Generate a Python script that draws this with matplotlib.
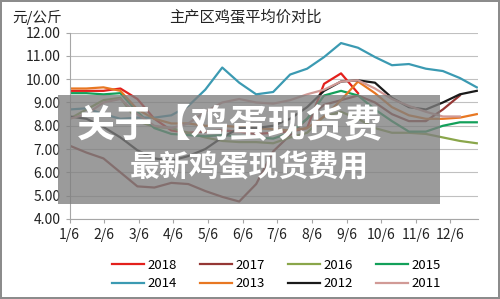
import numpy as np
import matplotlib
matplotlib.use("Agg")
import matplotlib.pyplot as plt
from matplotlib.patches import Rectangle

plt.rcParams['font.family'] = ['Noto Sans CJK SC', 'DejaVu Sans']

# half-month sample points, in months after 1/6
x_pos = np.arange(25) * 0.49
month_labels = ["1/6", "2/6", "3/6", "4/6", "5/6", "6/6", "7/6", "8/6", "9/6", "10/6", "11/6", "12/6"]
nan = np.nan

p2018 = [9.5, 9.5, 9.5, 9.6, 9.15, 8.3, 7.8, 7.7, 7.75, 7.8, 7.75, 7.65, 7.7, 7.75, 7.9, 9.8, 10.25, 9.4,
         nan, nan, nan, nan, nan, nan, nan]
p2017 = [7.15, 6.85, 6.6, 6.0, 5.4, 5.35, 5.55, 5.5, 5.2, 4.95, 4.75, 5.5, 6.9, 7.6, 8.3, 8.9, 9.1, 9.3,
         9.0, 8.5, 8.2, 8.2, 8.7, 9.3, nan]
p2016 = [8.3, 8.7, 9.1, 9.2, 8.2, 7.95, 7.9, 7.7, 7.5, 7.35, 7.3, 7.3, 7.25, 7.5, 7.7, 8.4, 8.6, 8.3,
         7.9, 7.7, 7.7, 7.65, 7.5, 7.35, 7.25]
p2015 = [9.4, 9.4, 9.35, 9.4, 8.6, 7.9, 7.65, 7.6, 7.55, 7.6, 7.55, 7.5, 7.45, 7.7, 8.3, 9.3, 9.5, 9.3,
         8.7, 8.2, 7.75, 7.75, 8.0, 8.15, 8.15]
p2014 = [8.7, 8.75, 8.5, 8.3, 8.35, 8.35, 8.45, 8.85, 9.55, 10.5, 9.85, 9.35, 9.45, 10.2, 10.45, 10.95,
         11.55, 11.35, 10.95, 10.6, 10.65, 10.45, 10.35, 10.05, 9.65]
p2013 = [9.6, 9.6, 9.65, 9.5, 8.7, 8.3, 8.1, 8.1, 8.0, 8.0, 7.95, 7.9, 7.85, 7.8, 7.9, 8.4, 9.1, 9.9,
         9.4, 8.8, 8.45, 8.3, 8.3, 8.35, 8.5]
p2012 = [8.4, 8.3, 7.95, 7.5, 6.95, 6.6, 6.5, 6.7, 7.0, 7.5, 7.9, 7.9, 8.0, 8.3, 8.8, 9.5, 9.9, 9.95,
         9.85, 9.2, 8.8, 8.7, 9.0, 9.35, 9.5]
p2011 = [8.3, 8.5, 9.0, 9.15, 8.5, 8.0, 7.9, 8.1, 8.6, 9.0, 9.15, 9.0, 8.95, 9.1, 9.35, 9.55, 9.9, 9.95,
         9.6, 9.15, 8.85, 8.6, 8.4, 8.4, nan]

years = ["2018", "2017", "2016", "2015", "2014", "2013", "2012", "2011"]
series = [p2018, p2017, p2016, p2015, p2014, p2013, p2012, p2011]
colors = ["#e3201c", "#953735", "#8aa64a", "#13a05a", "#3b9ab2", "#e87722", "#1a1a1a", "#d19a96"]

fig = plt.figure(figsize=(5.0, 2.99), dpi=100)
fig.patch.set_edgecolor("#8c8c8c")
fig.patch.set_linewidth(1.5)

ax = fig.add_axes([0.139, 0.2676, 0.816, 0.6234])
lines = {}
for yr, vals, c in zip(years, series, colors):
    ln, = ax.plot(x_pos, vals, color=c, lw=1.6, label=yr)
    lines[yr] = ln

ax.set_ylim(4, 12)
ax.set_xlim(0, 11.78)
ax.set_yticks(np.arange(4, 12.01, 1))
ax.set_yticklabels([f"{v:.2f}" for v in np.arange(4, 12.01, 1)], fontsize=10)
ax.set_xticks(np.arange(12))
ax.set_xticklabels(month_labels, fontsize=10)
ax.grid(axis="y", color="#c0c0c0", lw=0.8)
ax.set_axisbelow(True)
for s in ["top", "right"]:
    ax.spines[s].set_visible(False)
ax.spines["left"].set_color("#a6a6a6")
ax.spines["bottom"].set_color("#a6a6a6")
ax.tick_params(axis="both", colors="#a6a6a6", labelcolor="#222222", length=3)

fig.text(0.49, 0.943, "主产区鸡蛋平均价对比", ha="center", va="center", fontsize=11, color="#222222")
fig.text(0.024, 0.943, "元/公斤", ha="left", va="center", fontsize=10.5, color="#222222")

order = ["2018", "2014", "2017", "2013", "2016", "2012", "2015", "2011"]
fig.legend([lines[y] for y in order], order, ncol=4, loc="center", bbox_to_anchor=(0.553, 0.082),
           frameon=False, fontsize=9.5, handlelength=2.4, handletextpad=0.3, columnspacing=1.75,
           labelspacing=0.45)

# watermark overlay
fig.patches.append(Rectangle((0.116, 0.318), 0.764, 0.365, transform=fig.transFigure,
                             facecolor="#7f7f7f", alpha=0.78, edgecolor="none", zorder=5))
fig.text(0.154, 0.582, "关于【鸡蛋现货费", ha="left", va="center", fontsize=27.5, fontweight="bold",
         color="white", zorder=6)
fig.text(0.26, 0.441, "最新鸡蛋现货费用", ha="left", va="center", fontsize=21.5, fontweight="bold",
         color="white", zorder=6)

fig.savefig("out.png", dpi=100)
